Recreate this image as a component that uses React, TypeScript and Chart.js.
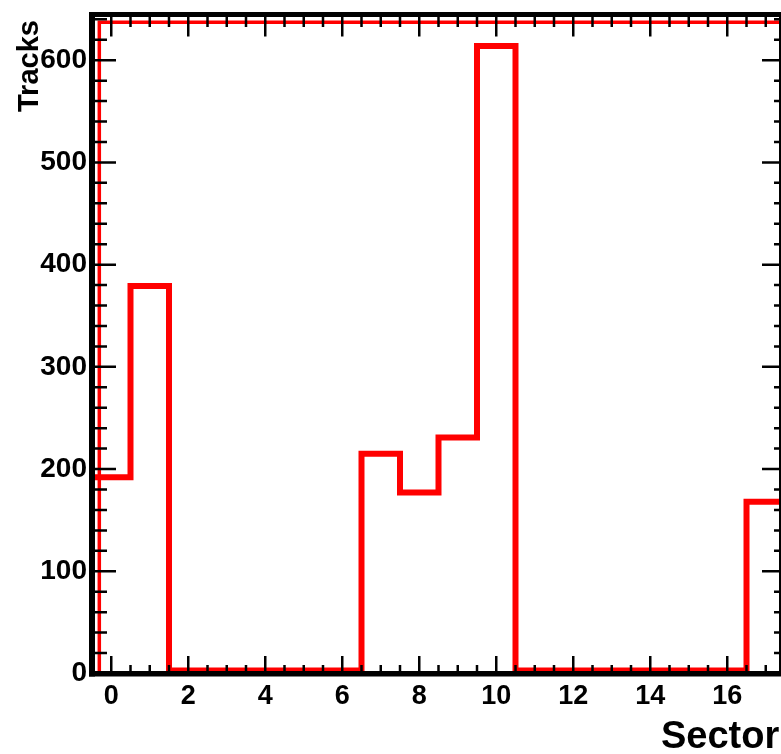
import React, { useEffect, useRef } from "react";
import { Chart, registerables } from "chart.js";

Chart.register(...registerables);

// ---- data ----
const sectors = [0, 1, 2, 3, 4, 5, 6, 7, 8, 9, 10, 11, 12, 13, 14, 15, 16, 17];
const tracks = [192, 379, 3, 3, 3, 3, 3, 215, 177, 231, 614, 3, 3, 3, 3, 3, 3, 168];

const xMajorTicks = [0, 2, 4, 6, 8, 10, 12, 14, 16];
const yMajorTicks = [0, 100, 200, 300, 400, 500, 600];
const xMinorStep = 0.5;
const yMinorStep = 20;

// thin red outline line (left edge + top level)
const outlineX = -0.31;
const outlineLevel = 637;

const xMin = -0.5;
const xMax = 17.37;
const yMin = 0;
const yMax = 644.7;

const xTitle = "Sector";
const yTitle = "Tracks";

const FONT = '"Liberation Sans", Arial, Helvetica, sans-serif';

function histogramPoints() {
  const pts: { x: number; y: number }[] = [];
  pts.push({ x: sectors[0] - 0.5, y: 0 });
  for (let i = 0; i < sectors.length; i++) {
    pts.push({ x: sectors[i] - 0.5, y: tracks[i] });
    pts.push({ x: sectors[i] + 0.5, y: tracks[i] });
  }
  pts.push({ x: sectors[sectors.length - 1] + 0.5, y: 0 });
  return pts;
}

const framePlugin = {
  id: "rootFrame",
  afterDatasetsDraw(chart: any) {
    const { ctx, chartArea: a, scales } = chart;
    const xs = scales.x;
    const ys = scales.y;
    ctx.save();
    ctx.strokeStyle = "#000";
    ctx.lineWidth = 2.5;
    ctx.lineCap = "butt";
    ctx.beginPath();
    for (let v = Math.ceil(xMin / xMinorStep) * xMinorStep; v <= xMax + 1e-9; v += xMinorStep) {
      const major = xMajorTicks.some((m) => Math.abs(m - v) < 1e-6);
      const px = xs.getPixelForValue(v);
      ctx.moveTo(px, a.bottom);
      ctx.lineTo(px, a.bottom - (major ? 17.5 : 8.5));
      ctx.moveTo(px, a.top);
      ctx.lineTo(px, a.top + (major ? 22 : 12.5));
    }
    for (let v = yMin; v <= yMax + 1e-9; v += yMinorStep) {
      const major = yMajorTicks.some((m) => Math.abs(m - v) < 1e-6);
      const py = ys.getPixelForValue(v);
      ctx.moveTo(a.left, py);
      ctx.lineTo(a.left + (major ? 24 : 15), py);
      ctx.moveTo(a.right, py);
      ctx.lineTo(a.right - (major ? 18 : 6), py);
    }
    ctx.stroke();

    ctx.fillStyle = "#000";
    const w = a.right - a.left;
    const h = a.bottom - a.top;
    ctx.fillRect(a.left - 3, a.top - 2.5, w + 4, 5); // top
    ctx.fillRect(a.left - 3, a.top - 2.5, 6, h + 5.5); // left axis
    ctx.fillRect(a.left - 3, a.bottom - 2.5, w + 4, 5.5); // bottom axis
    ctx.fillRect(a.right - 1, a.top, 2.5, h); // right
    ctx.restore();
  },
  afterDraw(chart: any) {
    const { ctx } = chart;
    ctx.save();
    ctx.fillStyle = "#000";
    ctx.font = `bold 38px ${FONT}`;
    ctx.textAlign = "left";
    ctx.textBaseline = "alphabetic";
    ctx.fillText(xTitle, 661, 748);

    ctx.translate(38, 112);
    ctx.rotate(-Math.PI / 2);
    ctx.font = `bold 29px ${FONT}`;
    ctx.fillText(yTitle, 0, 0);
    ctx.restore();
  },
};

export default function App() {
  const ref = useRef<HTMLCanvasElement | null>(null);

  useEffect(() => {
    if (!ref.current) return;
    const chart = new Chart(ref.current, {
      type: "line",
      data: {
        datasets: [
          {
            label: "Tracks",
            data: histogramPoints(),
            borderColor: "#ff0000",
            borderWidth: 6,
            borderJoinStyle: "miter",
            borderCapStyle: "butt",
            pointRadius: 0,
            tension: 0,
            fill: false,
            clip: 0,
          },
          {
            label: "outline",
            data: [
              { x: outlineX, y: yMin },
              { x: outlineX, y: outlineLevel },
              { x: xMax + 1, y: outlineLevel },
            ],
            borderColor: "#ff0000",
            borderWidth: 3.5,
            borderJoinStyle: "miter",
            pointRadius: 0,
            tension: 0,
            fill: false,
            clip: 0,
          },
        ],
      } as any,
      options: {
        animation: false,
        responsive: false,
        devicePixelRatio: 1,
        layout: { padding: { left: 0, top: 14.5, right: 1, bottom: 0 } },
        plugins: {
          legend: { display: false },
          tooltip: { enabled: false },
          title: { display: false },
        },
        scales: {
          x: {
            type: "linear",
            min: xMin,
            max: xMax,
            grid: { display: false, drawTicks: false },
            border: { display: false },
            afterBuildTicks: (scale: any) => {
              scale.ticks = xMajorTicks.map((v) => ({ value: v }));
            },
            afterFit: (scale: any) => {
              scale.height = 80.5;
              scale.paddingLeft = 0;
              scale.paddingRight = 0;
            },
            ticks: {
              autoSkip: false,
              maxRotation: 0,
              minRotation: 0,
              padding: 7,
              color: "#000",
              font: { family: FONT, size: 27, weight: "bold" },
              callback: (v: any) => String(v),
            },
          },
          y: {
            type: "linear",
            min: yMin,
            max: yMax,
            grid: { display: false, drawTicks: false },
            border: { display: false },
            afterBuildTicks: (scale: any) => {
              scale.ticks = yMajorTicks.map((v) => ({ value: v }));
            },
            afterFit: (scale: any) => {
              scale.width = 92;
              scale.paddingTop = 0;
              scale.paddingBottom = 0;
            },
            ticks: {
              padding: 5,
              color: "#000",
              font: { family: FONT, size: 28, weight: "bold" },
              callback: (v: any) => String(v),
            },
          },
        },
      } as any,
      plugins: [framePlugin],
    });
    return () => chart.destroy();
  }, []);

  return (
    <div style={{ position: "absolute", left: 0, top: 0, width: 781, height: 754, background: "#fff" }}>
      <canvas ref={ref} width={781} height={754} style={{ display: "block" }} />
    </div>
  );
}
